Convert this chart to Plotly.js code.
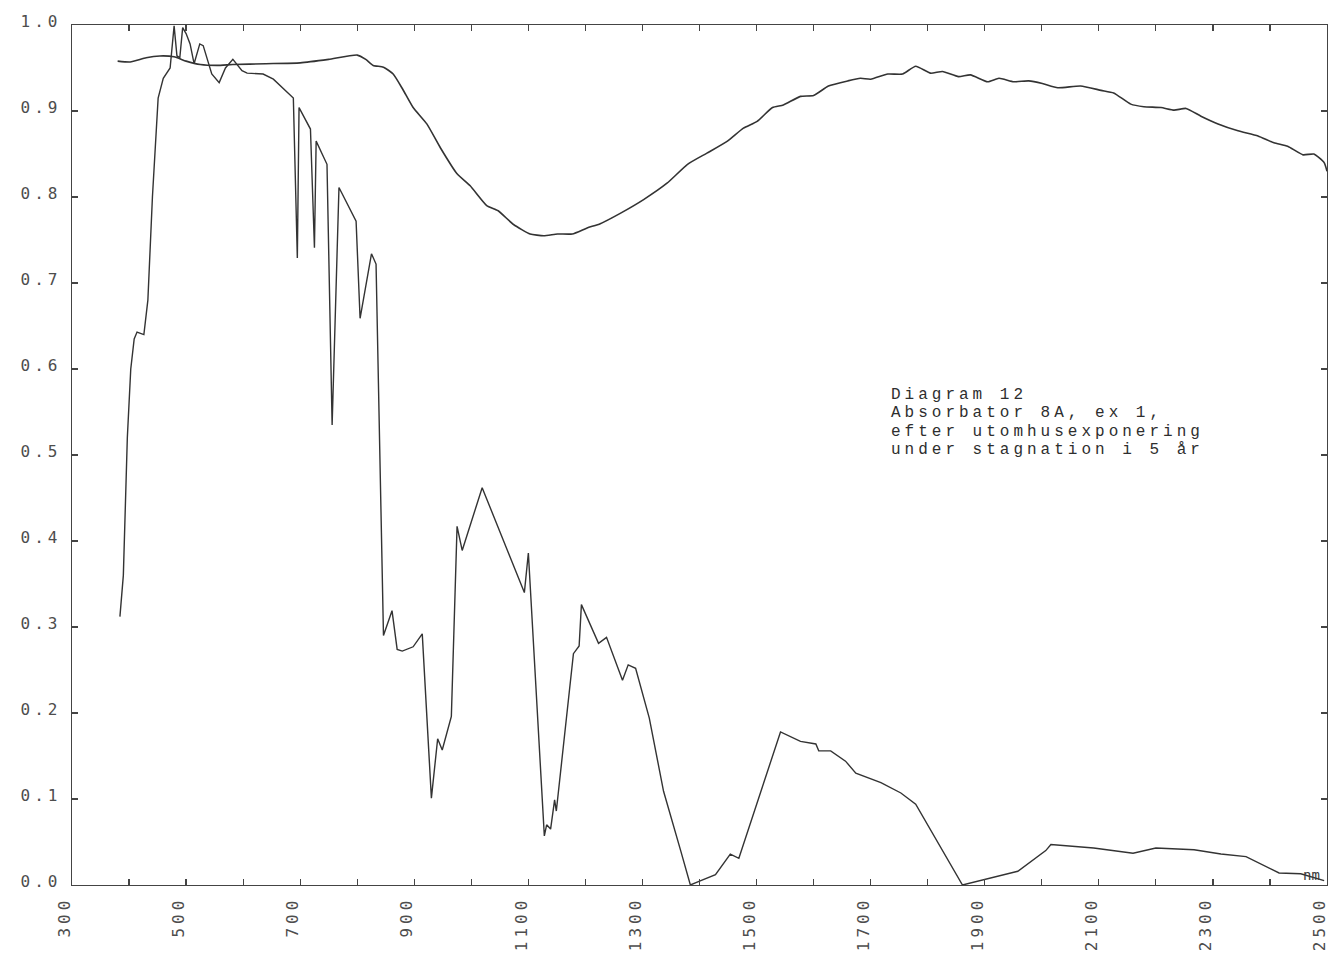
<!DOCTYPE html>
<html>
<head>
<meta charset="utf-8">
<script src="https://cdn.plot.ly/plotly-3.0.1.min.js"></script>
<style>
  html, body { margin: 0; padding: 0; background: #ffffff; }
  #chart { width: 1331px; height: 961px; }
  .xtick text, .ytick text { letter-spacing: 4px; }
  .annotation-text { letter-spacing: 4px; }
  .annotation[data-index="4"] .annotation-text { letter-spacing: 0px; }
</style>
</head>
<body>
<div id="chart"></div>
<script>
// Wavelength (nm) and values, upper (smooth) curve
const upperWl = [380,402,430,454,479,500,525,554,582,640,700,750,800,815,828,846,863,880,898,922,946,975,998,1027,1047,1074,1103,1127,1151,1177,1203,1226,1261,1302,1343,1379,1413,1449,1477,1501,1528,1547,1577,1600,1626,1660,1682,1700,1730,1756,1779,1805,1826,1854,1875,1905,1925,1951,1977,2001,2028,2068,2104,2126,2156,2179,2209,2232,2253,2279,2309,2344,2379,2407,2431,2458,2477,2495,2500];
const upperVal = [0.958,0.957,0.962,0.964,0.963,0.958,0.954,0.953,0.954,0.955,0.956,0.960,0.965,0.960,0.953,0.951,0.943,0.925,0.904,0.885,0.857,0.827,0.813,0.790,0.784,0.768,0.757,0.755,0.757,0.757,0.764,0.769,0.781,0.797,0.816,0.838,0.851,0.865,0.880,0.888,0.904,0.907,0.917,0.918,0.929,0.935,0.938,0.937,0.943,0.943,0.952,0.944,0.946,0.940,0.942,0.934,0.938,0.934,0.935,0.932,0.927,0.929,0.924,0.921,0.908,0.905,0.904,0.901,0.903,0.894,0.885,0.877,0.871,0.863,0.859,0.849,0.850,0.840,0.830];

// Wavelength (nm) and values, lower (jagged) curve
const lowerWl = [384,390,397,403,409,414,426,433,441,451,460,472,479,484,489,494,500,507,514,524,530,545,558,569,582,598,607,635,653,670,688,695,698,718,725,728,747,756,768,798,805,825,833,846,861,870,879,898,914,930,941,949,965,975,984,1019,1093,1100,1128,1132,1139,1146,1149,1179,1189,1193,1223,1237,1265,1275,1288,1312,1337,1367,1384,1398,1428,1454,1469,1542,1577,1604,1609,1630,1656,1674,1718,1753,1779,1861,1958,2007,2016,2091,2160,2200,2267,2314,2358,2416,2454,2495];
const lowerVal = [0.312,0.36,0.52,0.60,0.635,0.643,0.640,0.68,0.80,0.915,0.938,0.950,0.999,0.964,0.962,0.997,0.990,0.978,0.955,0.978,0.976,0.943,0.933,0.950,0.960,0.947,0.944,0.943,0.937,0.926,0.915,0.729,0.904,0.879,0.741,0.865,0.838,0.535,0.811,0.772,0.659,0.734,0.722,0.290,0.319,0.274,0.272,0.277,0.292,0.101,0.170,0.157,0.196,0.417,0.389,0.462,0.340,0.386,0.057,0.070,0.065,0.099,0.086,0.269,0.278,0.326,0.281,0.288,0.238,0.256,0.252,0.194,0.109,0.040,0.000,0.004,0.012,0.036,0.031,0.178,0.167,0.164,0.156,0.156,0.144,0.130,0.119,0.107,0.094,0.000,0.016,0.040,0.047,0.043,0.037,0.043,0.041,0.036,0.033,0.014,0.013,0.005];

// Axis ticks
const xTickVals = [300,400,500,600,700,800,900,1000,1100,1200,1300,1400,1500,1600,1700,1800,1900,2000,2100,2200,2300,2400,2500];
const xTickText = ["300","","500","","700","","900","","1100","","1300","","1500","","1700","","1900","","2100","","2300","","2500"];
const yTickVals = [0,0.1,0.2,0.3,0.4,0.5,0.6,0.7,0.8,0.9,1.0];
const yTickText = ["0.0","0.1","0.2","0.3","0.4","0.5","0.6","0.7","0.8","0.9","1.0"];

// Caption
const captionLines = ["Diagram 12","Absorbator 8A, ex 1,","efter utomhusexponering","under stagnation i 5 år"];
const unitLabel = "nm";

const ink = "#333333";
const labelColor = "#4d4d4d";
const tickFont = {family: "DejaVu Sans Mono, monospace", size: 16, color: labelColor};

const traces = [
  {x: upperWl, y: upperVal, type: "scatter", mode: "lines",
   line: {color: ink, width: 1.6, shape: "spline", smoothing: 0.5},
   hoverinfo: "skip", showlegend: false, xaxis: "x", yaxis: "y"},
  {x: lowerWl, y: lowerVal, type: "scatter", mode: "lines",
   line: {color: ink, width: 1.4},
   hoverinfo: "skip", showlegend: false, xaxis: "x", yaxis: "y"}
];

const annotations = captionLines.map((t, i) => ({
  text: t, xref: "paper", yref: "paper",
  x: (889 - 72) / (1327 - 72), y: (885 - (395 + i * 18.3)) / (885 - 25),
  xanchor: "left", yanchor: "middle", showarrow: false,
  font: {family: "Liberation Mono, Courier New, monospace", size: 16, color: "#2e2e2e"}
}));
annotations.push({
  text: unitLabel, xref: "paper", yref: "paper",
  x: (1311 - 72) / (1327 - 72), y: (885 - 875) / (885 - 25),
  xanchor: "center", yanchor: "middle", showarrow: false,
  font: {family: "DejaVu Sans Mono, monospace", size: 14, color: "#3a3a3a"}
});

const layout = {
  width: 1331, height: 961,
  margin: {l: 72, r: 4, t: 25, b: 76, pad: 0},
  paper_bgcolor: "#ffffff", plot_bgcolor: "#ffffff",
  showlegend: false,
  xaxis: {
    range: [300, 2500], showgrid: false, zeroline: false,
    showline: true, linecolor: "#444444", linewidth: 1.3, mirror: "allticks",
    ticks: "inside", ticklen: 6, tickwidth: 1.2, tickcolor: "#444444",
    tickmode: "array", tickvals: xTickVals, ticktext: xTickText,
    tickangle: -90, tickfont: tickFont, ticklabelstandoff: 4,
    ticklabelshift: -7, ticklabeloverflow: "allow"
  },
  yaxis: {
    range: [0, 1.0], showgrid: false, zeroline: false,
    showline: true, linecolor: "#444444", linewidth: 1.3, mirror: "allticks",
    ticks: "inside", ticklen: 6, tickwidth: 1.2, tickcolor: "#444444",
    tickmode: "array", tickvals: yTickVals, ticktext: yTickText,
    tickfont: tickFont, ticklabelstandoff: 6,
    ticklabelshift: -4, ticklabeloverflow: "allow"
  },
  xaxis2: {
    range: [300, 2500], overlaying: "x", anchor: "y", side: "bottom",
    showgrid: false, zeroline: false, showline: false,
    ticks: "outside", ticklen: 5, tickwidth: 1.2, tickcolor: "#444444",
    tickmode: "array", tickvals: xTickVals, showticklabels: false
  },
  yaxis2: {
    range: [0, 1.0], overlaying: "y", anchor: "x", side: "left",
    showgrid: false, zeroline: false, showline: false,
    ticks: "outside", ticklen: 5, tickwidth: 1.2, tickcolor: "#444444",
    tickmode: "array", tickvals: yTickVals, showticklabels: false
  },
  annotations: annotations
};

Plotly.newPlot("chart", traces, layout, {staticPlot: true, displayModeBar: false});
</script>
</body>
</html>
